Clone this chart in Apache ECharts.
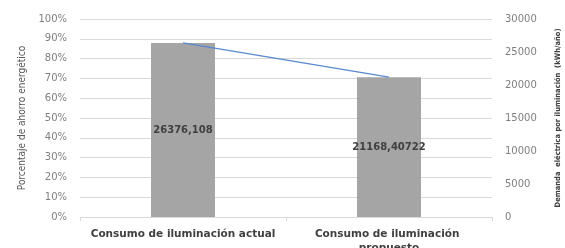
<!DOCTYPE html>
<html><head><meta charset="utf-8">
<script src="https://cdn.jsdelivr.net/npm/echarts@6/dist/echarts.min.js"></script>
<style>html,body{margin:0;padding:0;background:#fff}#c{width:565px;height:248px}</style>
</head><body><div id="c"></div>
<script>
var categories = ['Consumo de iluminación actual', 'Consumo de iluminación propuesto'];
var demandValues = [26376.108, 21168.40722];
var savingsPercent = [0.879, 0.706];
var leftTicks = {min: 0, max: 1, interval: 0.1};
var rightTicks = {min: 0, max: 30000, interval: 5000};

var chart = echarts.init(document.getElementById('c'), null, {renderer: 'canvas'});
var narrow = '"Liberation Sans Narrow", "DejaVu Sans Condensed", "Roboto Condensed", sans-serif';
chart.setOption({
  animation: false,
  grid: {left: 80, right: 73, top: 19, bottom: 31, containLabel: false, outerBoundsMode: 'none'},
  xAxis: {
    type: 'category',
    data: categories,
    axisLine: {lineStyle: {color: '#d9d9d9'}},
    axisTick: {show: true, length: 4, lineStyle: {color: '#d9d9d9'}},
    axisLabel: {interval: 0, color: '#404040', fontFamily: 'DejaVu Sans', fontWeight: 'bold', fontSize: 10.5, margin: 10,
      width: 196, overflow: 'break', lineHeight: 14}
  },
  yAxis: [{
    type: 'value', min: leftTicks.min, max: leftTicks.max, interval: leftTicks.interval,
    name: 'Porcentaje de ahorro energético', nameLocation: 'middle', nameGap: 52, nameRotate: 90,
    nameTextStyle: {color: '#595959', fontFamily: narrow, fontWeight: 'normal', fontSize: 10},
    axisLine: {show: false}, axisTick: {show: false},
    splitLine: {lineStyle: {color: '#d9d9d9'}},
    axisLabel: {color: '#7f7f7f', fontFamily: 'DejaVu Sans', fontSize: 10, margin: 13,
      formatter: function (v) { return Math.round(v * 100) + '%'; }}
  }, {
    type: 'value', min: rightTicks.min, max: rightTicks.max, interval: rightTicks.interval,
    name: 'Demanda  eléctrica por iluminación  (kWh/año)', nameLocation: 'middle', nameGap: 62, nameRotate: 90,
    nameTextStyle: {color: '#404040', fontFamily: narrow, fontWeight: 'bold', fontSize: 7.5},
    axisLine: {show: false}, axisTick: {show: false}, splitLine: {show: false},
    axisLabel: {color: '#7f7f7f', fontFamily: 'DejaVu Sans', fontSize: 10, margin: 13,
      formatter: function (v) { return String(v); }}
  }],
  series: [{
    type: 'bar', yAxisIndex: 1, data: demandValues, barWidth: 64,
    itemStyle: {color: '#a5a5a5'},
    label: {show: true, position: 'inside', color: '#404040', fontFamily: 'DejaVu Sans', fontWeight: 'bold', fontSize: 10,
      formatter: function (p) { return String(p.value).replace('.', ','); }}
  }, {
    type: 'line', yAxisIndex: 0, data: savingsPercent, showSymbol: false, symbol: 'none',
    lineStyle: {color: '#5b87cf', width: 1.3}
  }]
});
</script></body></html>
